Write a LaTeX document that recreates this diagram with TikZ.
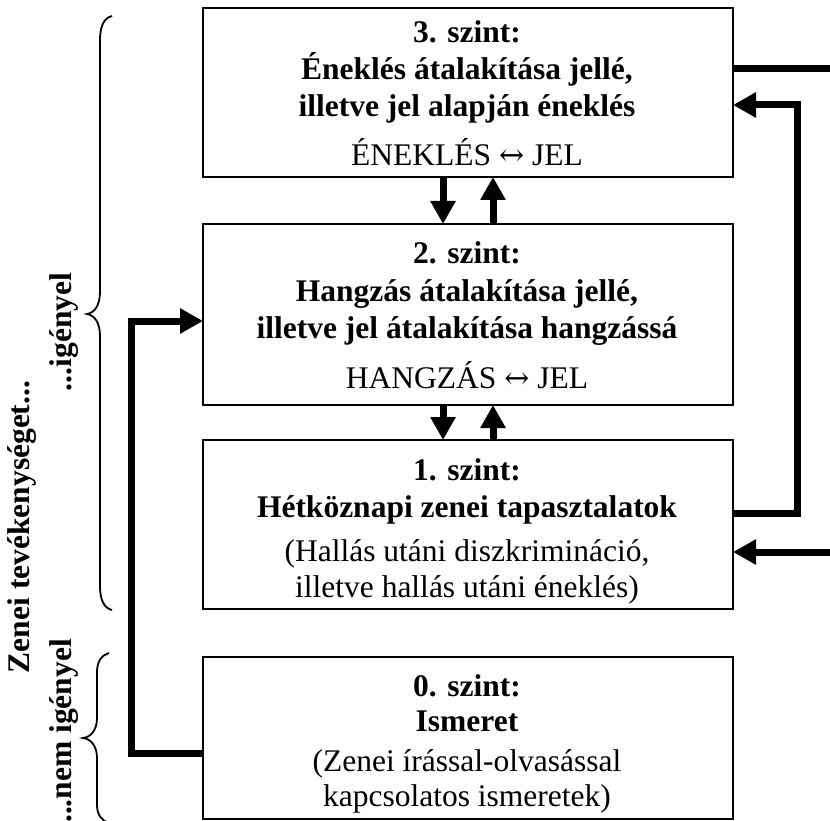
\documentclass[tikz,border=0pt]{standalone}
\usepackage{fontspec}
\setmainfont{Liberation Serif}
\newfontfamily\arrowfont{DejaVu Serif}
\usetikzlibrary{arrows.meta}
\begin{document}
\begin{tikzpicture}[x=1pt,y=-1pt,
  box/.style={draw, line width=1.6pt, inner sep=0pt, outer sep=0pt, minimum width=530pt, anchor=north west},
  hd/.style={font=\fontsize{31.5}{36}\selectfont\bfseries, anchor=base, inner sep=0pt},
  tx/.style={font=\fontsize{31.5}{36}\selectfont, anchor=base, inner sep=0pt},
  conn/.style={line width=7pt},
  arr/.style={line width=7pt, -{Triangle[width=24pt,length=23pt]}},
  brc/.style={line width=1.8pt},
  side/.style={font=\fontsize{31.5}{36}\selectfont\bfseries, rotate=90, inner sep=0pt}
]
\useasboundingbox (0,0) rectangle (830,821);
\fill[white] (0,0) rectangle (830,821);

% boxes
\node[box, minimum height=169pt] (b3) at (203,8) {};
\node[box, minimum height=181pt] (b2) at (203,224) {};
\node[box, minimum height=169pt] (b1) at (203,440) {};
\node[box, minimum height=162pt] (b0) at (203,657) {};

% texts box 3
\node[hd] (t3a) at (467,43) {3. szint:};
\node[hd] (t3b) at (467,80) {Éneklés átalakítása jellé,};
\node[hd] (t3c) at (467,117) {illetve jel alapján éneklés};
\node[tx] (t3d) at (467,166) {ÉNEKLÉS {\arrowfont\fontsize{30}{36}\selectfont ↔} JEL};
% texts box 2
\node[hd] (t2a) at (467,263) {2. szint:};
\node[hd] (t2b) at (467,301) {Hangzás átalakítása jellé,};
\node[hd] (t2c) at (467,338) {illetve jel átalakítása hangzássá};
\node[tx] (t2d) at (467,388) {HANGZÁS {\arrowfont\fontsize{30}{36}\selectfont ↔} JEL};
% texts box 1
\node[hd] (t1a) at (467,480) {1. szint:};
\node[hd] (t1b) at (467,517) {Hétköznapi zenei tapasztalatok};
\node[tx] (t1c) at (467,561) {(Hallás utáni diszkrimináció,};
\node[tx] (t1d) at (467,597) {illetve hallás utáni éneklés)};
% texts box 0
\node[hd] (t0a) at (467,696) {0. szint:};
\node[hd] (t0b) at (467,731) {Ismeret};
\node[tx] (t0c) at (467,771) {(Zenei írással-olvasással};
\node[tx] (t0d) at (467,806) {kapcsolatos ismeretek)};

% arrows between boxes
\draw[arr] ([xshift=-25pt]b3.south) -- ([xshift=-25pt]b2.north);
\draw[arr] ([xshift=25pt]b2.north) -- ([xshift=25pt]b3.south);
\draw[arr] ([xshift=-25pt]b2.south) -- ([xshift=-25pt]b1.north);
\draw[arr] ([xshift=25pt]b1.north) -- ([xshift=25pt]b2.south);

% right loops
\coordinate (r1) at (834,69);
\coordinate (r2) at (834,552);
\draw[arr] (b3.east |- r1) -- (r1) -- (r2) -- (b1.east |- r2);
\coordinate (q1) at (797,513);
\coordinate (q2) at (797,105);
\draw[arr] (b1.east |- q1) -- (q1) -- (q2) -- (b3.east |- q2);

% left loop
\coordinate (l1) at (131,753);
\coordinate (l2) at (131,321);
\draw[arr] (b0.west |- l1) -- (l1) -- (l2) -- (b2.west |- l2);

% braces
\draw[brc] (112,16) .. controls (104,18) and (100,26) .. (100,40) -- (100,292)
  .. controls (100,306) and (94,313) .. (87,314)
  .. controls (94,315) and (100,322) .. (100,336) -- (100,586)
  .. controls (100,600) and (104,608) .. (112,610);
\draw[brc] (109,653) .. controls (102,655) and (97,661) .. (97,672) -- (97,718)
  .. controls (97,730) and (91,737) .. (83,738)
  .. controls (91,739) and (97,746) .. (97,758) -- (97,805)
  .. controls (97,815) and (102,821) .. (109,823);

% side labels
\node[side] (s1) at (64,332) {...igényel};
\node[side] (s2) at (22,527) {Zenei tevékenységet...};
\node[side] (s3) at (64,731) {...nem igényel};
\end{tikzpicture}
\end{document}
